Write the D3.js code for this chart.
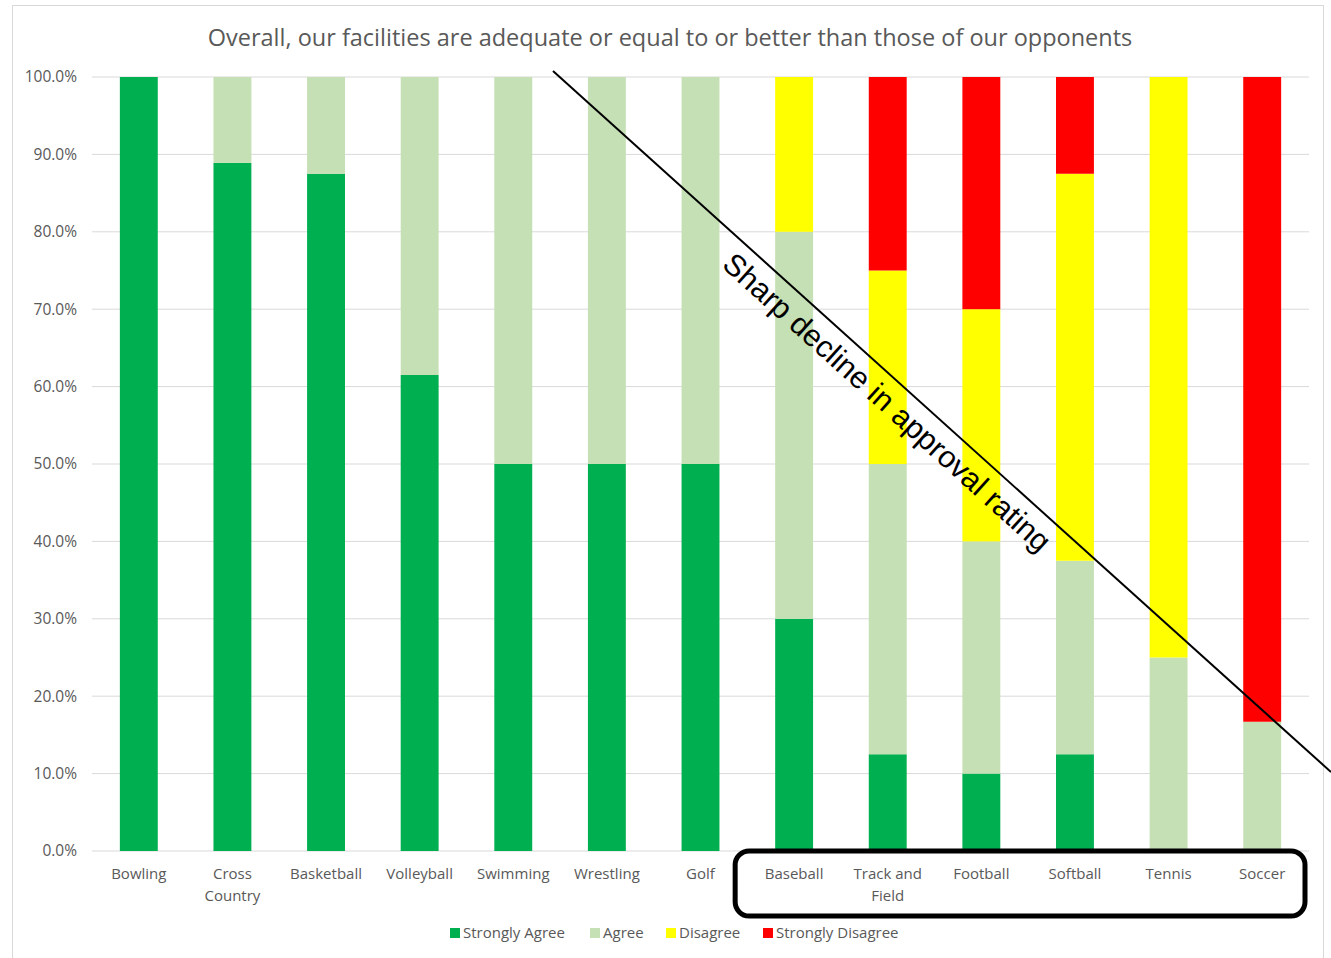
<!DOCTYPE html>
<html>
<head>
<meta charset="utf-8">
<script src="https://cdn.jsdelivr.net/npm/d3@7"></script>
<style>
  body { margin: 0; background: #fff; }
  svg { display: block; font-family: "Open Sans", sans-serif; }
  .tick text { fill: #595959; }
</style>
</head>
<body>
<div class="chart"></div>
<script>
// Chart data
var sports = ["Bowling", "Cross Country", "Basketball", "Volleyball", "Swimming", "Wrestling",
              "Golf", "Baseball", "Track and Field", "Football", "Softball", "Tennis", "Soccer"];
var sportLabels = [["Bowling"], ["Cross", "Country"], ["Basketball"], ["Volleyball"], ["Swimming"],
                   ["Wrestling"], ["Golf"], ["Baseball"], ["Track and", "Field"], ["Football"],
                   ["Softball"], ["Tennis"], ["Soccer"]];

var stronglyAgree    = [100, 88.9, 87.5, 61.5, 50, 50, 50, 30, 12.5, 10, 12.5, 0, 0];
var agree            = [0, 11.1, 12.5, 38.5, 50, 50, 50, 50, 37.5, 30, 25, 25, 16.7];
var disagree         = [0, 0, 0, 0, 0, 0, 0, 20, 25, 30, 50, 75, 0];
var stronglyDisagree = [0, 0, 0, 0, 0, 0, 0, 0, 25, 30, 12.5, 0, 83.3];

var seriesNames = ["Strongly Agree", "Agree", "Disagree", "Strongly Disagree"];
var seriesColors = ["#00b050", "#c5e0b4", "#ffff00", "#ff0000"];
var yTicks = [0, 10, 20, 30, 40, 50, 60, 70, 80, 90, 100];

var chartTitle = "Overall, our facilities are adequate or equal to or better than those of our opponents";
var noteText = "Sharp decline in approval rating";

// Dimensions
var w = 1331, h = 958;
var plot = {left: 92, right: 1309, top: 77, bottom: 851};

// Build table for the stack layout
var table = sports.map(function(s, i) {
    return {
        sport: s,
        "Strongly Agree": stronglyAgree[i],
        "Agree": agree[i],
        "Disagree": disagree[i],
        "Strongly Disagree": stronglyDisagree[i]
    };
});

var svg = d3.select(".chart")
  .append("svg")
  .attr("width", w)
  .attr("height", h);

// Chart frame
svg.append("rect")
  .attr("x", 12.5)
  .attr("y", 5.5)
  .attr("width", 1311)
  .attr("height", 970)
  .attr("fill", "none")
  .attr("stroke", "#d9d9d9");

// Scales
var x = d3.scaleBand()
  .domain(sports)
  .range([plot.left, plot.right])
  .paddingInner(0.595)
  .paddingOuter(0.2975);

var y = d3.scaleLinear()
  .domain([0, 100])
  .range([plot.bottom, plot.top]);

var color = d3.scaleOrdinal()
  .domain(seriesNames)
  .range(seriesColors);

// Gridlines
svg.append("g")
  .selectAll("line")
  .data(yTicks)
  .enter()
  .append("line")
  .attr("x1", plot.left)
  .attr("x2", plot.right)
  .attr("y1", function(d) { return y(d); })
  .attr("y2", function(d) { return y(d); })
  .attr("stroke", "#d9d9d9")
  .attr("stroke-width", 1);

// Y axis labels
var yAxis = d3.axisLeft(y)
  .tickValues(yTicks)
  .tickSize(0)
  .tickPadding(15)
  .tickFormat(function(d) { return d.toFixed(1) + "%"; });

svg.append("g")
  .attr("transform", "translate(" + plot.left + ",0)")
  .call(yAxis)
  .call(function(g) { g.select(".domain").remove(); })
  .selectAll("text")
    .attr("font-size", 15.5)
    .attr("font-family", "Open Sans, sans-serif");

// Stacked bars
var stack = d3.stack().keys(seriesNames);
var layers = stack(table);

svg.append("g")
  .selectAll("g")
  .data(layers)
  .enter()
  .append("g")
  .attr("fill", function(d) { return color(d.key); })
  .selectAll("rect")
  .data(function(d) { return d; })
  .enter()
  .append("rect")
  .attr("x", function(d) { return x(d.data.sport); })
  .attr("width", x.bandwidth())
  .attr("y", function(d) { return y(d[1]); })
  .attr("height", function(d) { return y(d[0]) - y(d[1]); });

// X axis labels, wrapped on two lines where needed
var xLab = svg.append("g")
  .selectAll("text")
  .data(sports)
  .enter()
  .append("text")
  .attr("x", function(d) { return x(d) + x.bandwidth() / 2; })
  .attr("y", 879)
  .attr("text-anchor", "middle")
  .attr("font-size", 15)
  .attr("fill", "#595959");

xLab.selectAll("tspan")
  .data(function(d, i) { return sportLabels[i]; })
  .enter()
  .append("tspan")
  .attr("x", function() { return d3.select(this.parentNode).attr("x"); })
  .attr("dy", function(d, i) { return i === 0 ? 0 : 22; })
  .text(function(d) { return d; });

// Title
svg.append("text")
  .attr("x", 670)
  .attr("y", 46)
  .attr("text-anchor", "middle")
  .attr("font-size", 23.5)
  .attr("fill", "#595959")
  .text(chartTitle);

// Rounded box round the last six labels
svg.append("rect")
  .attr("x", x("Baseball") - 40)
  .attr("y", 851)
  .attr("width", 1305 - (x("Baseball") - 40))
  .attr("height", 65)
  .attr("rx", 14)
  .attr("fill", "none")
  .attr("stroke", "#000")
  .attr("stroke-width", 5);

// Diagonal annotation line and text
var lineStart = [553, 71], lineEnd = [1331, 772];
svg.append("line")
  .attr("x1", lineStart[0])
  .attr("y1", lineStart[1])
  .attr("x2", lineEnd[0])
  .attr("y2", lineEnd[1])
  .attr("stroke", "#000")
  .attr("stroke-width", 2);

var angle = Math.atan2(lineEnd[1] - lineStart[1], lineEnd[0] - lineStart[0]) * 180 / Math.PI;
svg.append("text")
  .attr("transform", "translate(" + lineStart[0] + "," + lineStart[1] + ") rotate(" + angle + ")")
  .attr("x", 470)
  .attr("y", 33)
  .attr("text-anchor", "middle")
  .attr("font-family", "Liberation Sans, Arial, sans-serif")
  .attr("font-size", 30.5)
  .attr("fill", "#000")
  .text(noteText);

// Legend
var legendX = [450, 590, 666, 763];
var legend = svg.append("g")
  .selectAll("g")
  .data(seriesNames)
  .enter()
  .append("g")
  .attr("transform", function(d, i) { return "translate(" + legendX[i] + ",928)"; });

legend.append("rect")
  .attr("width", 10)
  .attr("height", 10)
  .attr("fill", function(d) { return color(d); });

legend.append("text")
  .attr("x", 13)
  .attr("y", 10)
  .attr("font-size", 15)
  .attr("fill", "#595959")
  .text(function(d) { return d; });
</script>
</body>
</html>
